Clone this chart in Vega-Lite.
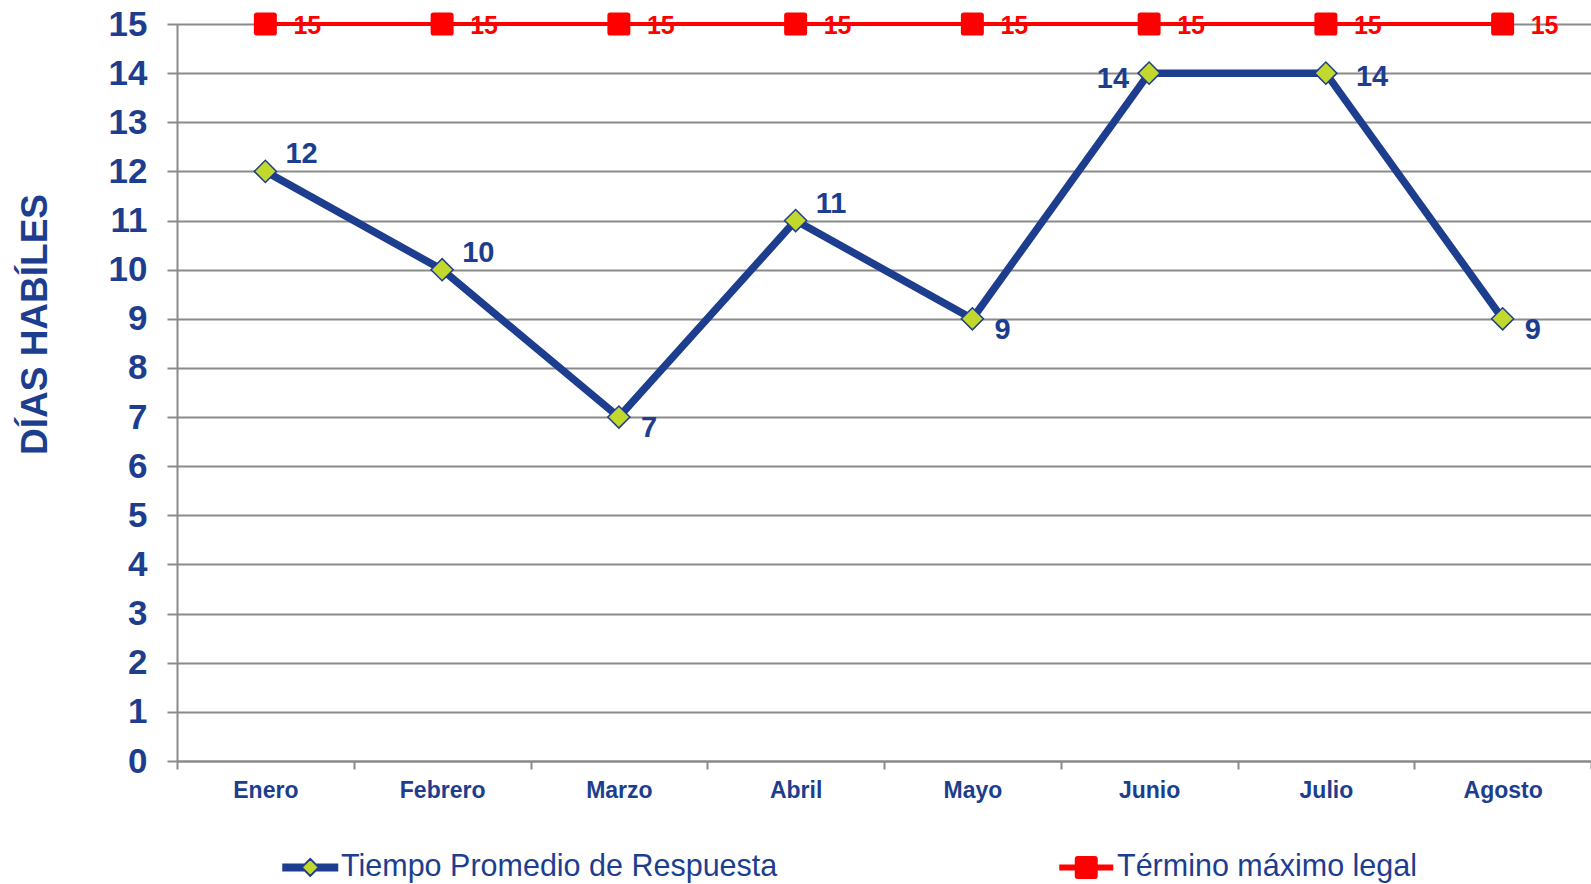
{
  "$schema": "https://vega.github.io/schema/vega-lite/v6.json",
  "width": 1414,
  "height": 737,
  "autosize": "none",
  "padding": {"left": 177, "top": 24, "right": 0, "bottom": 123},
  "background": "white",
  "data": {
    "values": [
      {"mes": "Enero", "serie": "Tiempo Promedio de Respuesta", "valor": 12},
      {"mes": "Febrero", "serie": "Tiempo Promedio de Respuesta", "valor": 10},
      {"mes": "Marzo", "serie": "Tiempo Promedio de Respuesta", "valor": 7},
      {"mes": "Abril", "serie": "Tiempo Promedio de Respuesta", "valor": 11},
      {"mes": "Mayo", "serie": "Tiempo Promedio de Respuesta", "valor": 9},
      {"mes": "Junio", "serie": "Tiempo Promedio de Respuesta", "valor": 14},
      {"mes": "Julio", "serie": "Tiempo Promedio de Respuesta", "valor": 14},
      {"mes": "Agosto", "serie": "Tiempo Promedio de Respuesta", "valor": 9},
      {"mes": "Enero", "serie": "Término máximo legal", "valor": 15},
      {"mes": "Febrero", "serie": "Término máximo legal", "valor": 15},
      {"mes": "Marzo", "serie": "Término máximo legal", "valor": 15},
      {"mes": "Abril", "serie": "Término máximo legal", "valor": 15},
      {"mes": "Mayo", "serie": "Término máximo legal", "valor": 15},
      {"mes": "Junio", "serie": "Término máximo legal", "valor": 15},
      {"mes": "Julio", "serie": "Término máximo legal", "valor": 15},
      {"mes": "Agosto", "serie": "Término máximo legal", "valor": 15}
    ]
  },
  "encoding": {
    "x": {
      "field": "mes",
      "type": "nominal",
      "sort": ["Enero", "Febrero", "Marzo", "Abril", "Mayo", "Junio", "Julio", "Agosto"],
      "scale": {"type": "band", "paddingInner": 0, "paddingOuter": 0},
      "axis": {
        "title": null,
        "labelAngle": 0,
        "tickBand": "extent",
        "labelFont": "Liberation Sans",
        "labelFontSize": 23,
        "labelFontWeight": "bold",
        "labelColor": "#1D3E8E",
        "labelPadding": 10,
        "tickSize": 8,
        "tickWidth": 2,
        "tickColor": "#8A8A8A",
        "domainColor": "#8A8A8A",
        "domainWidth": 2,
        "grid": false
      }
    },
    "y": {
      "field": "valor",
      "type": "quantitative",
      "scale": {"domain": [0, 15], "nice": false},
      "axis": {
        "title": "DÍAS HABÍLES",
        "titleFont": "Liberation Sans",
        "titleFontSize": 37,
        "titleFontWeight": "bold",
        "titleColor": "#1D3E8E",
        "titleAngle": -90,
        "titleAlign": "center",
        "titleBaseline": "middle",
        "titleX": -142,
        "titleY": 300,
        "values": [0, 1, 2, 3, 4, 5, 6, 7, 8, 9, 10, 11, 12, 13, 14, 15],
        "labelFont": "Liberation Sans",
        "labelFontSize": 35,
        "labelFontWeight": "bold",
        "labelColor": "#1D3E8E",
        "labelPadding": 20,
        "tickSize": 10,
        "tickWidth": 2,
        "tickColor": "#8A8A8A",
        "domainColor": "#8A8A8A",
        "domainWidth": 2,
        "grid": true,
        "gridColor": "#8A8A8A",
        "gridWidth": 2
      }
    }
  },
  "layer": [
    {
      "transform": [{"filter": "datum.serie === 'Tiempo Promedio de Respuesta'"}],
      "mark": {"type": "line", "strokeWidth": 7.5},
      "encoding": {
        "stroke": {
          "field": "serie",
          "type": "nominal",
          "scale": {
            "domain": ["Tiempo Promedio de Respuesta", "Término máximo legal"],
            "range": ["#1D3E8E", "#FF0000"]
          },
          "legend": {
            "title": null,
            "orient": "none",
            "legendX": 118,
            "legendY": 828,
            "direction": "horizontal",
            "padding": 0,
            "labelFont": "Liberation Sans",
            "labelFontSize": 30.5,
            "labelColor": "#1D3E8E",
            "labelLimit": 1000,
            "labelOffset": 15.5,
            "columnPadding": 277,
            "symbolSize": 4,
            "symbolStrokeWidth": 2,
            "encode": {
              "symbols": {
                "update": {
                  "shape": {"signal": "datum.value === 'Tiempo Promedio de Respuesta' ? 'M -28 -3 L -5.5 -3 M -28 -1 L -7.5 -1 M -28 1 L -7.5 1 M -28 3 L -5.5 3 M 5.5 -3 L 28 -3 M 7.5 -1 L 28 -1 M 7.5 1 L 28 1 M 5.5 3 L 28 3 M -8.5 0 L 0 -8.5 L 8.5 0 L 0 8.5 Z' : 'M -27 -2 L 27 -2 M -27 0 L 27 0 M -27 2 L 27 2 M -8.5 -10.5 L 8.5 -10.5 Q 10.5 -10.5 10.5 -8.5 L 10.5 8.5 Q 10.5 10.5 8.5 10.5 L -8.5 10.5 Q -10.5 10.5 -10.5 8.5 L -10.5 -8.5 Q -10.5 -10.5 -8.5 -10.5 Z'"},
                  "fill": {"signal": "datum.value === 'Tiempo Promedio de Respuesta' ? '#C3D82C' : '#FF0000'"},
                  "stroke": {"signal": "datum.value === 'Tiempo Promedio de Respuesta' ? '#1D3E8E' : '#FF0000'"},
                  "strokeWidth": {"value": 2},
                  "size": {"value": 4},
                  "opacity": {"value": 1}
                }
              }
            }
          }
        }
      }
    },
    {
      "transform": [{"filter": "datum.serie === 'Término máximo legal'"}],
      "mark": {"type": "line", "strokeWidth": 4},
      "encoding": {
        "stroke": {"field": "serie", "type": "nominal"}
      }
    },
    {
      "transform": [{"filter": "datum.serie === 'Tiempo Promedio de Respuesta'"}],
      "mark": {"type": "point", "shape": "diamond", "filled": true, "fill": "#C3D82C", "stroke": "#1D3E8E", "strokeWidth": 1.5, "size": 490, "opacity": 1}
    },
    {
      "transform": [{"filter": "datum.serie === 'Término máximo legal'"}],
      "mark": {"type": "point", "shape": "M -0.75 -1 L 0.75 -1 Q 1 -1 1 -0.75 L 1 0.75 Q 1 1 0.75 1 L -0.75 1 Q -1 1 -1 0.75 L -1 -0.75 Q -1 -1 -0.75 -1 Z", "filled": true, "fill": "#FF0000", "strokeWidth": 0, "size": 529, "opacity": 1}
    },
    {
      "transform": [{"filter": "datum.serie === 'Término máximo legal'"}],
      "mark": {"type": "text", "font": "Liberation Sans", "fontSize": 25, "fontWeight": "bold", "color": "#FF0000", "align": "left", "baseline": "middle", "dx": 28, "dy": 2},
      "encoding": {"text": {"field": "valor", "type": "quantitative"}}
    },
    {
      "transform": [{"filter": {"field": "mes", "oneOf": ["Enero", "Febrero", "Abril"]}}, {"filter": "datum.serie === 'Tiempo Promedio de Respuesta'"}],
      "mark": {"type": "text", "font": "Liberation Sans", "fontSize": 29, "fontWeight": "bold", "color": "#1D3E8E", "align": "left", "baseline": "middle", "dx": 20, "dy": -17},
      "encoding": {"text": {"field": "valor", "type": "quantitative"}}
    },
    {
      "transform": [{"filter": {"field": "mes", "oneOf": ["Marzo", "Mayo", "Agosto"]}}, {"filter": "datum.serie === 'Tiempo Promedio de Respuesta'"}],
      "mark": {"type": "text", "font": "Liberation Sans", "fontSize": 29, "fontWeight": "bold", "color": "#1D3E8E", "align": "left", "baseline": "middle", "dx": 22, "dy": 11},
      "encoding": {"text": {"field": "valor", "type": "quantitative"}}
    },
    {
      "transform": [{"filter": {"field": "mes", "oneOf": ["Julio"]}}, {"filter": "datum.serie === 'Tiempo Promedio de Respuesta'"}],
      "mark": {"type": "text", "font": "Liberation Sans", "fontSize": 29, "fontWeight": "bold", "color": "#1D3E8E", "align": "left", "baseline": "middle", "dx": 30, "dy": 4},
      "encoding": {"text": {"field": "valor", "type": "quantitative"}}
    },
    {
      "transform": [{"filter": {"field": "mes", "oneOf": ["Junio"]}}, {"filter": "datum.serie === 'Tiempo Promedio de Respuesta'"}],
      "mark": {"type": "text", "font": "Liberation Sans", "fontSize": 29, "fontWeight": "bold", "color": "#1D3E8E", "align": "right", "baseline": "middle", "dx": -20, "dy": 6},
      "encoding": {"text": {"field": "valor", "type": "quantitative"}}
    }
  ],
  "config": {
    "view": {"stroke": null},
    "font": "Liberation Sans"
  }
}
